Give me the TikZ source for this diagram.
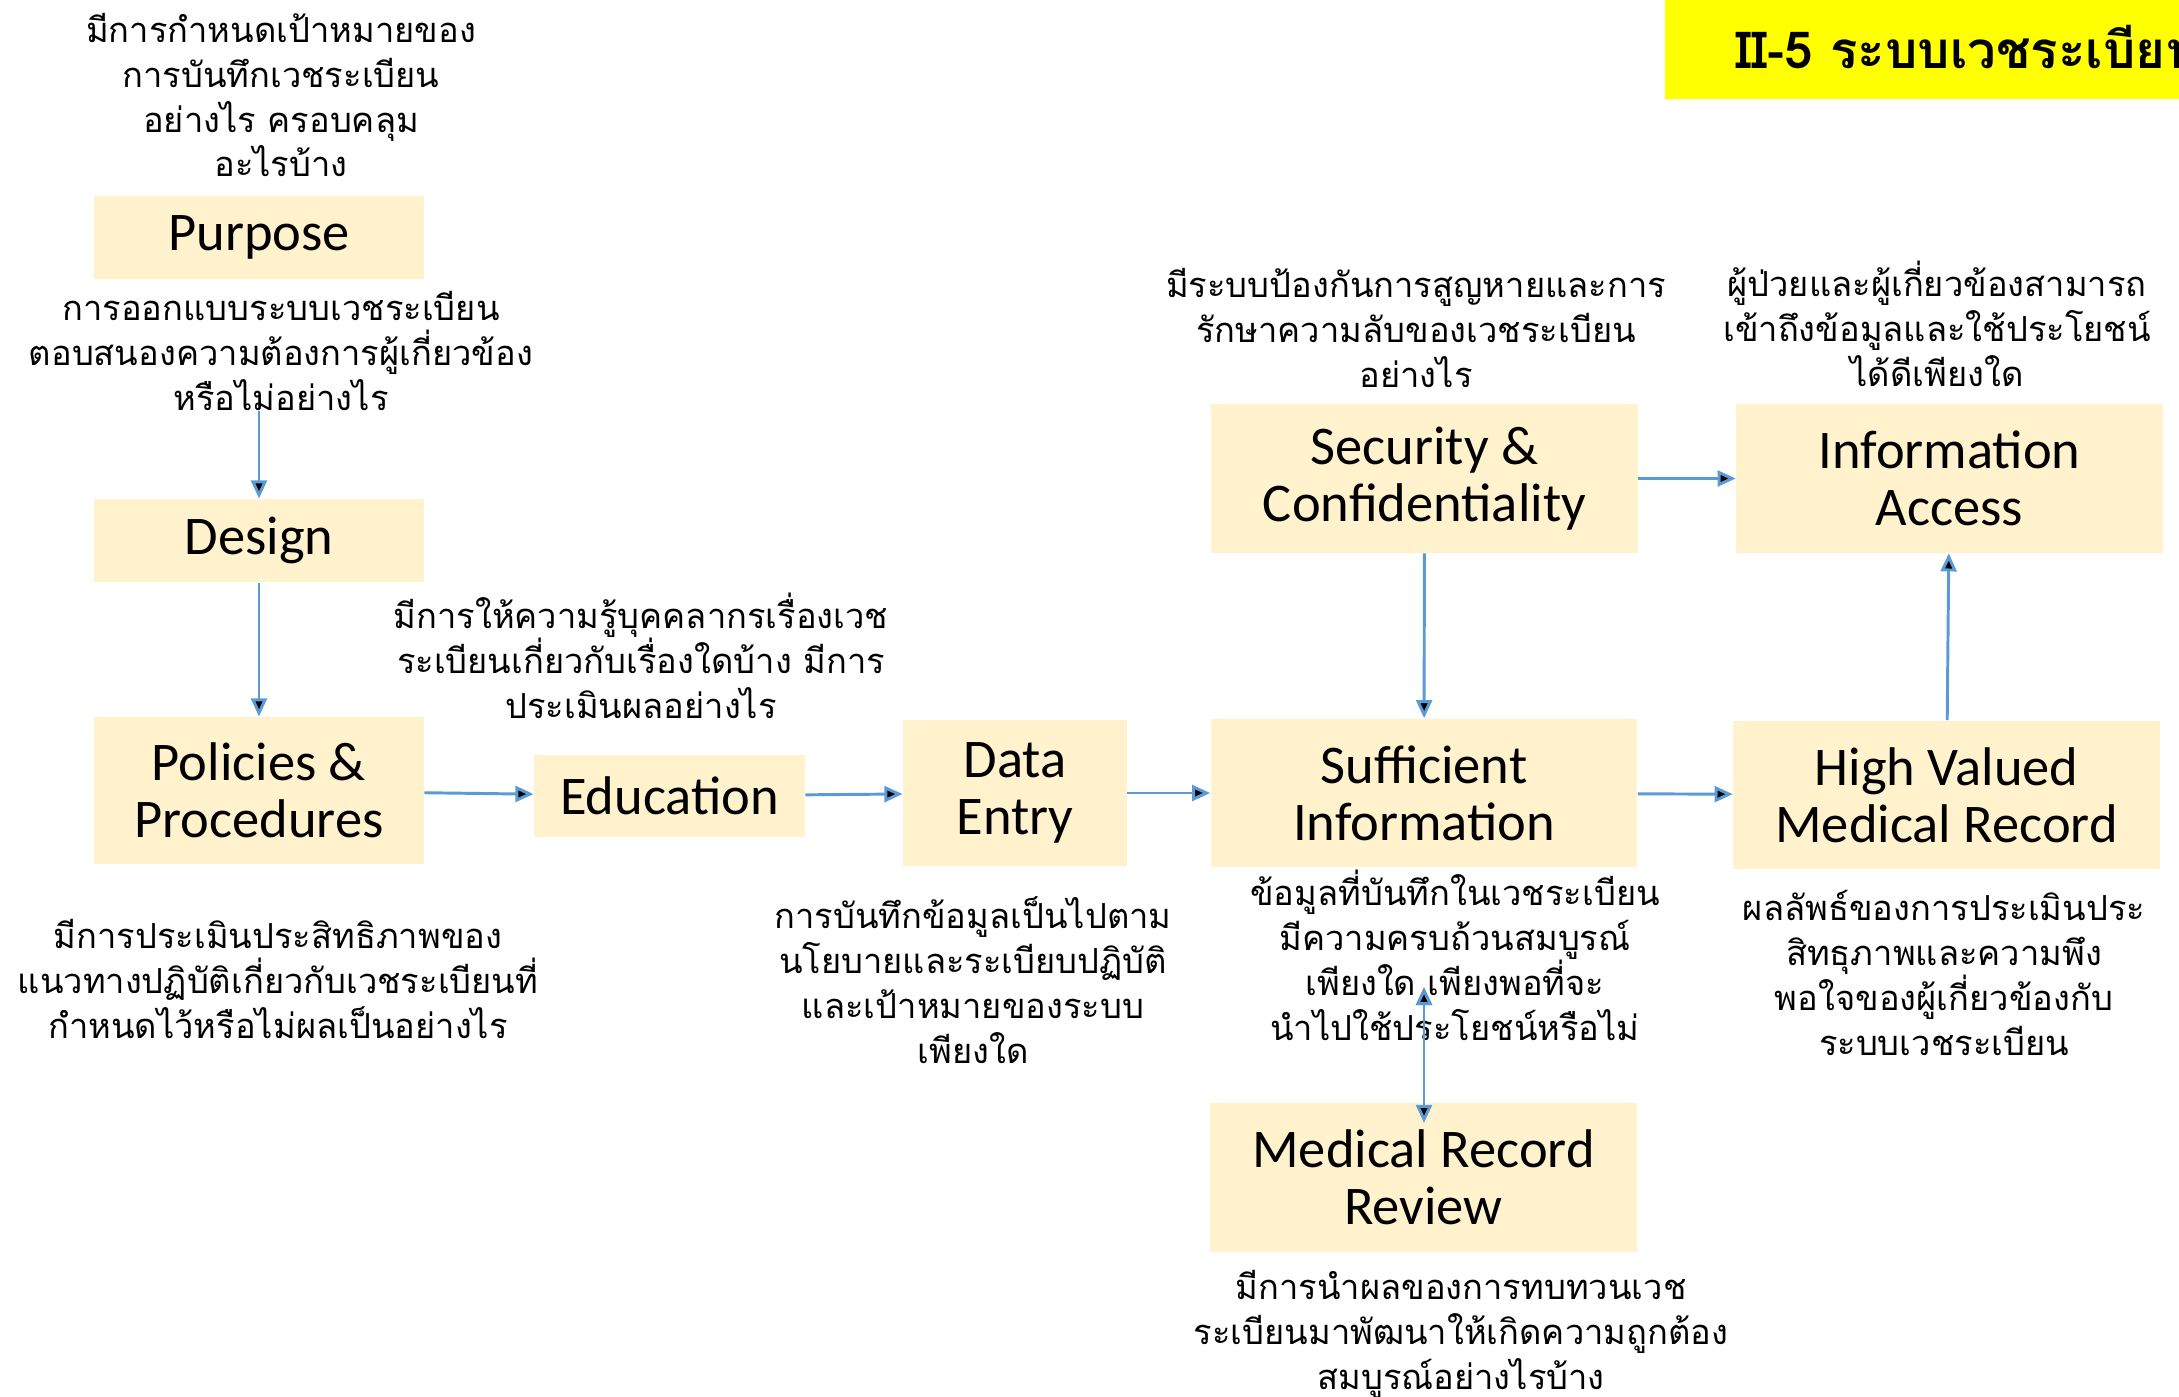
\documentclass[tikz,border=0pt]{standalone}
\usepackage{fontspec}
\usepackage{tikz}
\usetikzlibrary{positioning, arrows.meta}
\newfontfamily\thaifont[Script=Thai]{Loma}
\newfontfamily\boxfont{Carlito}
\newcommand\notefont{\thaifont\fontsize{15.2}{19.8}\selectfont\lineskiplimit=-20pt\relax}
\definecolor{boxfill}{HTML}{FFF2CC}
\definecolor{flowblue}{HTML}{5B9BD5}
\definecolor{titleyellow}{HTML}{FFFF00}
\tikzstyle{box}=[%
      rectangle, draw=none, fill=boxfill, inner sep=0pt, align=center,
      font=\boxfont\fontsize{24}{25}\selectfont
]
\tikzstyle{wide}=[%
      box, minimum width=188pt, minimum height=65.5pt
]
\tikzstyle{note}=[%
      align=center, inner sep=0pt, font=\notefont
]
\tikzstyle{flow}=[%
      draw=flowblue, line width=1.3pt, -{Triangle[length=8pt,width=7pt]}
]
\begin{document}
\begin{tikzpicture}[x=0.4406pt, y=-0.4406pt]
    \clip (0,0) rectangle (2179,1396);

    % title bar
    \node[fill=titleyellow, anchor=west, minimum height=45.4pt, inner xsep=30.8pt,
          font=\thaifont\bfseries\fontsize{22.5}{26}\selectfont] (title) at (1665,47)
          {II-5 ระบบเวชระเบียน};

    % left column
    \node[box, minimum width=145.4pt, minimum height=36.6pt] (pur) at (259,237.5) {Purpose};
    \node[box, minimum width=145.4pt, minimum height=36.6pt] (des) at (259,540.5) {Design};
    \node[box, minimum width=145.4pt, minimum height=64.8pt] (pol) at (259,790.5) {Policies \&\\Procedures};
    \node[box, minimum width=119.4pt, minimum height=36.1pt] (edu) at (669.5,796) {Education};
    \node[box, minimum width=98.7pt, minimum height=64.3pt]  (ent) at (1015,793) {Data\\Entry};

    % right part
    \node[wide] (suf)  at (1424,793)     {Sufficient\\Information};
    \node[wide] (sec)  at (1424.5,478.5) {Security \&\\Confidentiality};
    \node[wide] (acc)  at (1949.5,478.5) {Information\\Access};
    \node[wide] (high) at (1946.5,795)   {High Valued\\Medical Record};
    \node[wide] (rev)  at (1423.5,1177.5) {Medical Record\\Review};

    % questions
    \node[note] (purq) at (281,95)   {มีการกำหนดเป้าหมายของ\\การบันทึกเวชระเบียน\\อย่างไร ครอบคลุม\\อะไรบ้าง};
    \node[note] (desq) at (281,351)  {การออกแบบระบบเวชระเบียน\\ตอบสนองความต้องการผู้เกี่ยวข้อง\\หรือไม่อย่างไร};
    \node[note] (eduq) at (641,656)  {มีการให้ความรู้บุคคลากรเรื่องเวช\\ระเบียนเกี่ยวกับเรื่องใดบ้าง มีการ\\ประเมินผลอย่างไร};
    \node[note] (polq) at (278,979)  {มีการประเมินประสิทธิภาพของ\\แนวทางปฏิบัติเกี่ยวกับเวชระเบียนที่\\กำหนดไว้หรือไม่ผลเป็นอย่างไร};
    \node[note] (entq) at (973,980)  {การบันทึกข้อมูลเป็นไปตาม\\นโยบายและระเบียบปฏิบัติ\\และเป้าหมายของระบบ\\เพียงใด};
    \node[note] (secq) at (1416,328) {มีระบบป้องกันการสูญหายและการ\\รักษาความลับของเวชระเบียน\\อย่างไร};
    \node[note] (accq) at (1937,324) {ผู้ป่วยและผู้เกี่ยวข้องสามารถ\\เข้าถึงข้อมูลและใช้ประโยชน์\\ได้ดีเพียงใด};
    \node[note] (sufq) at (1455,955) {ข้อมูลที่บันทึกในเวชระเบียน\\มีความครบถ้วนสมบูรณ์\\เพียงใด เพียงพอที่จะ\\นำไปใช้ประโยชน์หรือไม่};
    \node[note] (highq) at (1944,973) {ผลลัพธ์ของการประเมินประ\\สิทธุภาพและความพึง\\พอใจของผู้เกี่ยวข้องกับ\\ระบบเวชระเบียน};
    \node[note] (revq) at (1461,1334) {มีการนำผลของการทบทวนเวช\\ระเบียนมาพัฒนาให้เกิดความถูกต้อง\\สมบูรณ์อย่างไรบ้าง};

    \coordinate (revtop) at (1424,987);
    \coordinate (revend) at (1424,1123);

    \path[flow] (desq.south -| des.north) edge (des)
          (des) edge (pol)
          (pol) edge (edu)
          (edu) edge (ent)
          (ent) edge (suf)
          (suf) edge (high)
          (sec) edge (suf)
          (sec) edge (acc)
          (high) edge (acc)
          (revtop) edge[{Triangle[length=8pt,width=7pt]}-{Triangle[length=8pt,width=7pt]}] (revend)
    ;
\end{tikzpicture}
\end{document}
